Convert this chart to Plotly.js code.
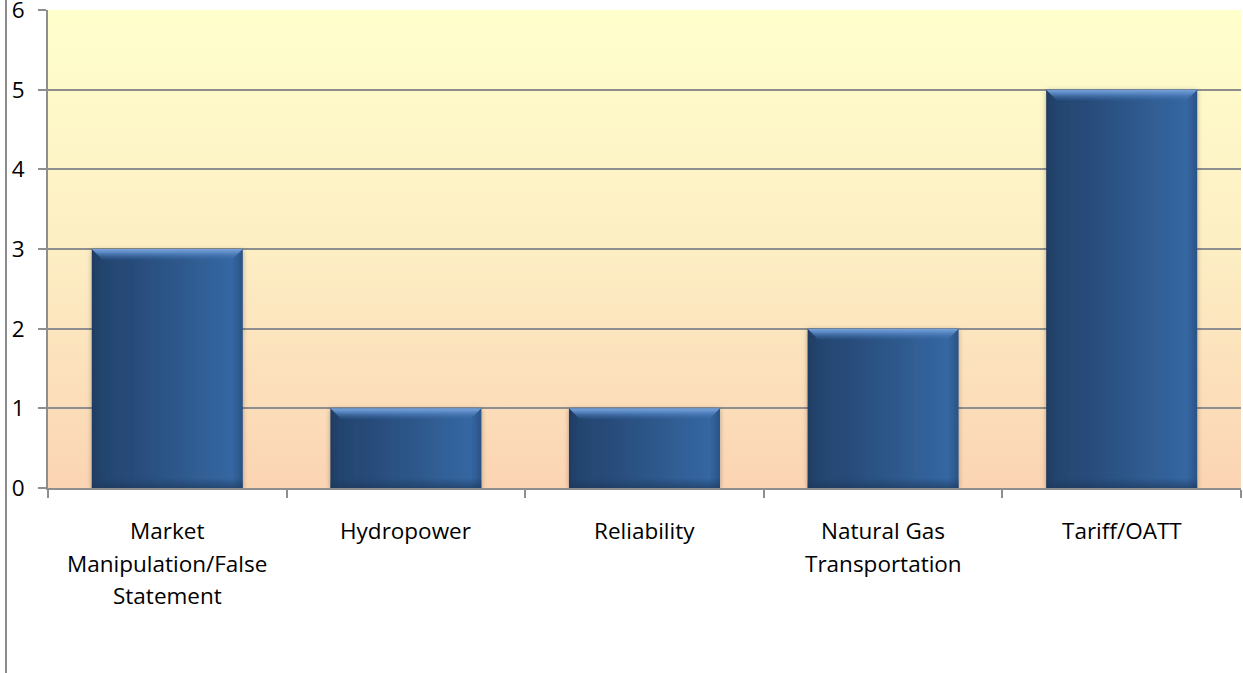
<!DOCTYPE html>
<html>
<head>
<meta charset="utf-8">
<script src="https://cdn.plot.ly/plotly-3.0.1.min.js"></script>
<style>
html,body{margin:0;padding:0;background:#fff;}
#chart{width:1243px;height:673px;}
</style>
</head>
<body>
<div id="chart"></div>
<script>
const categories = ["Market Manipulation/False Statement", "Hydropower", "Reliability", "Natural Gas Transportation", "Tariff/OATT"];
const categoryLines = [["Market", "Manipulation/False", "Statement"], ["Hydropower"], ["Reliability"], ["Natural Gas", "Transportation"], ["Tariff/OATT"]];
const values = [3, 1, 1, 2, 5];
const yTicks = [0, 1, 2, 3, 4, 5, 6];

const gridColor = "#8e8e8e";
const fontFamily = "'Open Sans', 'Noto Sans', sans-serif";
const labelSize = 22.5;

const data = [{
  type: "bar",
  x: categories,
  y: values,
  marker: {color: "#2d5a8e", line: {width: 0}},
  hoverinfo: "skip"
}];

const annotations = [];
categories.forEach(function (cat, i) {
  categoryLines[i].forEach(function (line, j) {
    annotations.push({
      xref: "x", yref: "y", x: cat, y: 0,
      text: line, showarrow: false,
      xanchor: "center", yanchor: "top",
      yshift: -25 - j * 32.5,
      font: {family: fontFamily, size: labelSize, color: "#000"}
    });
  });
});

const layout = {
  width: 1243, height: 673,
  margin: {l: 48, r: 2, t: 10, b: 185},
  paper_bgcolor: "#ffffff",
  plot_bgcolor: "#fdebc0",
  bargap: 0.367,
  showlegend: false,
  font: {family: fontFamily, size: labelSize, color: "#000000"},
  xaxis: {
    type: "category",
    tickson: "boundaries",
    ticks: "outside", ticklen: 8, tickwidth: 2, tickcolor: gridColor,
    showline: true, linecolor: gridColor, linewidth: 2,
    showgrid: false, zeroline: false,
    showticklabels: false
  },
  yaxis: {
    range: [0, 6],
    tickvals: yTicks,
    ticktext: yTicks.map(String),
    ticks: "outside", ticklen: 8, tickwidth: 2, tickcolor: gridColor,
    showline: true, linecolor: gridColor, linewidth: 2,
    showgrid: true, gridcolor: gridColor, gridwidth: 2,
    zeroline: false,
    ticklabeloverflow: "allow",
    ticklabelstandoff: 9,
    tickfont: {family: fontFamily, size: labelSize, color: "#000"}
  },
  annotations: annotations,
  shapes: [{
    type: "line", xref: "paper", yref: "paper",
    xsizemode: "pixel", xanchor: 0, x0: -42, x1: -42,
    y0: -0.4, y1: 1.03,
    line: {color: "#8c8c8c", width: 2}
  }]
};

Plotly.newPlot("chart", data, layout, {staticPlot: true, displayModeBar: false}).then(function (gd) {
  const NS = "http://www.w3.org/2000/svg";
  const svg = gd.querySelector("svg.main-svg");
  const defs = document.createElementNS(NS, "defs");
  svg.insertBefore(defs, svg.firstChild);

  function addStops(g, stops) {
    stops.forEach(function (s) {
      const st = document.createElementNS(NS, "stop");
      st.setAttribute("offset", s[0]);
      st.setAttribute("stop-color", s[1]);
      if (s[2] !== undefined) st.setAttribute("stop-opacity", s[2]);
      g.appendChild(st);
    });
  }
  function grad(id, vertical, stops) {
    const g = document.createElementNS(NS, "linearGradient");
    g.setAttribute("id", id);
    g.setAttribute("x1", "0"); g.setAttribute("y1", "0");
    g.setAttribute("x2", vertical ? "0" : "1"); g.setAttribute("y2", vertical ? "1" : "0");
    addStops(g, stops);
    defs.appendChild(g);
  }
  grad("bgGrad", true, [["0", "#ffffcc"], ["0.5", "#fdeec4"], ["1", "#fbd4b3"]]);
  grad("barGrad", false, [["0", "#1f3c62"], ["0.06", "#23446e"], ["0.5", "#2c5587"], ["0.93", "#3567a2"], ["1", "#2a5386"]]);

  const filt = document.createElementNS(NS, "filter");
  filt.setAttribute("id", "barShadow");
  filt.setAttribute("x", "-10%"); filt.setAttribute("y", "-10%");
  filt.setAttribute("width", "120%"); filt.setAttribute("height", "120%");
  const ds = document.createElementNS(NS, "feDropShadow");
  ds.setAttribute("dx", "0"); ds.setAttribute("dy", "1");
  ds.setAttribute("stdDeviation", "2.5");
  ds.setAttribute("flood-color", "#000"); ds.setAttribute("flood-opacity", "0.3");
  filt.appendChild(ds);
  defs.appendChild(filt);

  const bg = gd.querySelector(".bglayer rect.bg");
  if (bg) bg.style.fill = "url(#bgGrad)";

  gd.querySelectorAll(".bars .point path").forEach(function (p, i) {
    p.style.fill = "url(#barGrad)";
    p.setAttribute("filter", "url(#barShadow)");
    const bb = p.getBBox();
    const bevel = 11;
    const gid = "bevel" + i;
    const g = document.createElementNS(NS, "linearGradient");
    g.setAttribute("id", gid);
    g.setAttribute("gradientUnits", "userSpaceOnUse");
    g.setAttribute("x1", "0"); g.setAttribute("x2", "0");
    g.setAttribute("y1", bb.y); g.setAttribute("y2", bb.y + bevel);
    addStops(g, [["0", "#7aa3d6", 1], ["0.3", "#5f8ecb", 0.95], ["1", "#3d6ca8", 0.1]]);
    defs.appendChild(g);
    const top = document.createElementNS(NS, "path");
    const x0 = bb.x, x1 = bb.x + bb.width, y0 = bb.y, y1 = bb.y + bevel;
    top.setAttribute("d", "M" + x0 + "," + y0 + "L" + x1 + "," + y0 + "L" + (x1 - bevel) + "," + y1 + "L" + (x0 + bevel) + "," + y1 + "Z");
    top.style.fill = "url(#" + gid + ")";
    p.parentNode.appendChild(top);
    const bid = "bot" + i;
    const g2 = document.createElementNS(NS, "linearGradient");
    g2.setAttribute("id", bid);
    g2.setAttribute("gradientUnits", "userSpaceOnUse");
    g2.setAttribute("x1", "0"); g2.setAttribute("x2", "0");
    g2.setAttribute("y1", bb.y + bb.height - 10); g2.setAttribute("y2", bb.y + bb.height);
    addStops(g2, [["0", "#1c3658", 0], ["1", "#1c3658", 0.6]]);
    defs.appendChild(g2);
    const bot = document.createElementNS(NS, "rect");
    bot.setAttribute("x", bb.x); bot.setAttribute("width", bb.width);
    bot.setAttribute("y", bb.y + bb.height - 10); bot.setAttribute("height", 10);
    bot.style.fill = "url(#" + bid + ")";
    p.parentNode.appendChild(bot);
  });
});
</script>
</body>
</html>
